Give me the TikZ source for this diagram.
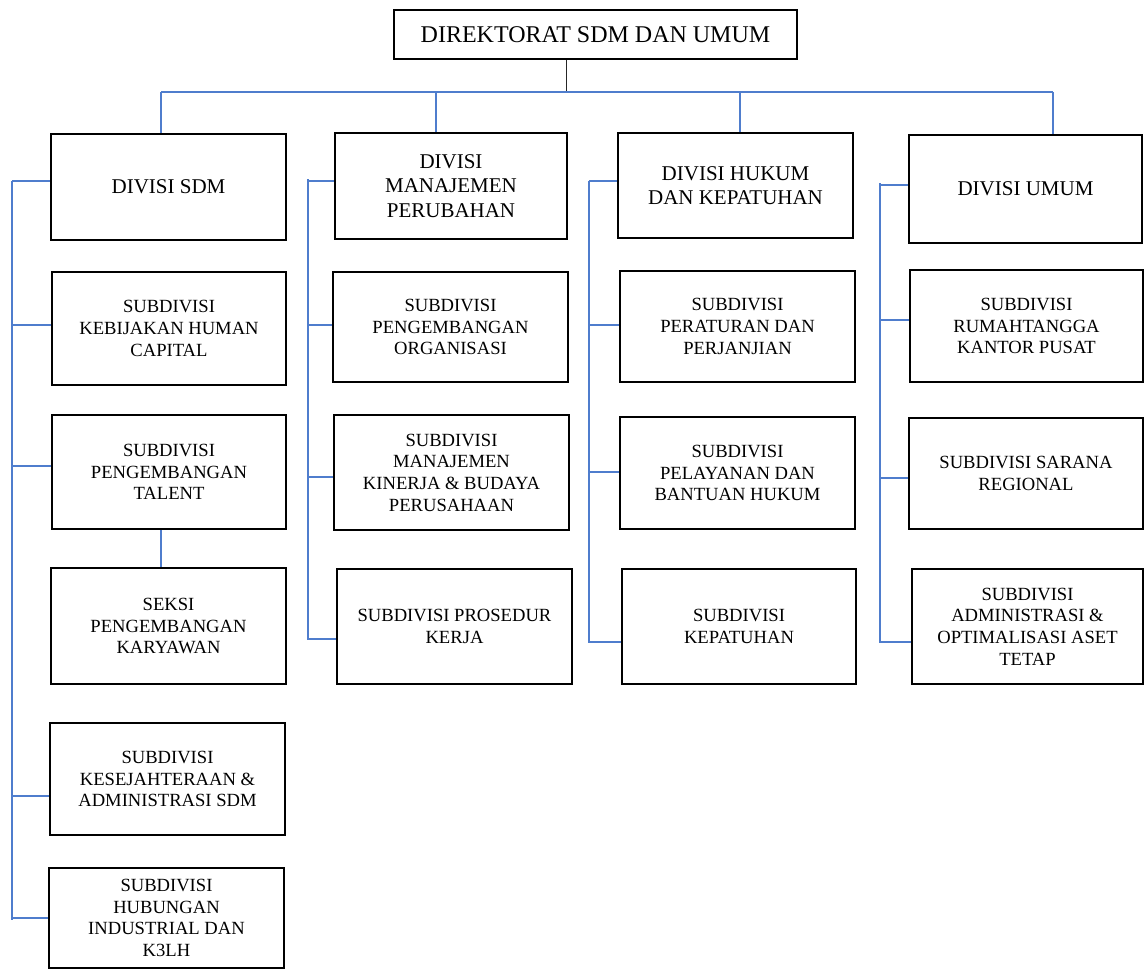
\documentclass[tikz,border=0pt]{standalone}
\usepackage{fontspec}
\setmainfont{Liberation Serif}
\definecolor{busblue}{RGB}{79,125,205}
\tikzset{
  boxbase/.style={draw=black, line width=2.8pt, rectangle, align=center, inner sep=2pt, fill=white},
  dirbox/.style={boxbase, font=\fontsize{24}{27}\selectfont},
  divbox/.style={boxbase, font=\fontsize{21}{24.3}\selectfont},
  subbox/.style={boxbase, font=\fontsize{18.6}{21.7}\selectfont},
  blueline/.style={draw=busblue, line width=1.4pt},
  blackline/.style={draw=black!85, line width=1pt}
}
\begin{document}
\begin{tikzpicture}[x=1pt,y=-1pt]
\useasboundingbox (0,0) rectangle (1146,972);
% top
\node[dirbox, minimum width=403pt, minimum height=49pt] (dir) at (595.5,34.5) {DIREKTORAT SDM DAN UMUM};
% divisions
\node[divbox, minimum width=235pt, minimum height=106pt] (d1) at (168.5,187) {DIVISI SDM};
\node[divbox, minimum width=232pt, minimum height=106pt] (d2) at (451,186) {DIVISI\\MANAJEMEN\\PERUBAHAN};
\node[divbox, minimum width=235pt, minimum height=105pt] (d3) at (735.5,185.5) {DIVISI HUKUM\\DAN KEPATUHAN};
\node[divbox, minimum width=233pt, minimum height=108pt] (d4) at (1025.5,189) {DIVISI UMUM};
% column 1
\node[subbox, minimum width=234pt, minimum height=113pt] (s11) at (169,328.5) {SUBDIVISI\\KEBIJAKAN HUMAN\\CAPITAL};
\node[subbox, minimum width=234pt, minimum height=114pt] (s12) at (169,472) {SUBDIVISI\\PENGEMBANGAN\\TALENT};
\node[subbox, minimum width=235pt, minimum height=116pt] (s13) at (168.5,626) {SEKSI\\PENGEMBANGAN\\KARYAWAN};
\node[subbox, minimum width=235pt, minimum height=112pt] (s14) at (167.5,779) {SUBDIVISI\\KESEJAHTERAAN \&\\ADMINISTRASI SDM};
\node[subbox, minimum width=235pt, minimum height=100pt] (s15) at (166.5,918) {SUBDIVISI\\HUBUNGAN\\INDUSTRIAL DAN\\K3LH};
% column 2
\node[subbox, minimum width=235pt, minimum height=110pt] (s21) at (450.5,327) {SUBDIVISI\\PENGEMBANGAN\\ORGANISASI};
\node[subbox, minimum width=235pt, minimum height=115pt] (s22) at (451.5,472.5) {SUBDIVISI\\MANAJEMEN\\KINERJA \& BUDAYA\\PERUSAHAAN};
\node[subbox, minimum width=235pt, minimum height=115pt] (s23) at (454.5,626.5) {SUBDIVISI PROSEDUR\\KERJA};
% column 3
\node[subbox, minimum width=235pt, minimum height=111pt] (s31) at (737.5,326.5) {SUBDIVISI\\PERATURAN DAN\\PERJANJIAN};
\node[subbox, minimum width=235pt, minimum height=112pt] (s32) at (737.5,473) {SUBDIVISI\\PELAYANAN DAN\\BANTUAN HUKUM};
\node[subbox, minimum width=234pt, minimum height=115pt] (s33) at (739,626.5) {SUBDIVISI\\KEPATUHAN};
% column 4
\node[subbox, minimum width=233pt, minimum height=112pt] (s41) at (1026.5,326) {SUBDIVISI\\RUMAHTANGGA\\KANTOR PUSAT};
\node[subbox, minimum width=234pt, minimum height=111pt] (s42) at (1026,473.5) {SUBDIVISI SARANA\\REGIONAL};
\node[subbox, minimum width=231pt, minimum height=115pt] (s43) at (1027.5,626.5) {SUBDIVISI\\ADMINISTRASI \&\\OPTIMALISASI ASET\\TETAP};
% top bus
\coordinate (hub) at (566,92);
\coordinate (t1) at (161,92);
\coordinate (t2) at (436,92);
\coordinate (t3) at (740,92);
\coordinate (t4) at (1053,92);
\draw[blackline] (dir.south -| hub) -- (hub);
\draw[blueline] (t1) -- (t4);
\draw[blueline] (t1) -- (t1 |- d1.north);
\draw[blueline] (t2) -- (t2 |- d2.north);
\draw[blueline] (t3) -- (t3 |- d3.north);
\draw[blueline] (t4) -- (t4 |- d4.north);
% column buses
\coordinate (c1) at (12,181);
\coordinate (c1e) at (12,920);
\coordinate (c2) at (308,179);
\coordinate (c2e) at (308,640);
\coordinate (c3) at (589,181);
\coordinate (c3e) at (589,643);
\coordinate (c4) at (880,183);
\coordinate (c4e) at (880,643);
\draw[blueline] (c1) -- (c1e);
\draw[blueline] (c2) -- (c2e);
\draw[blueline] (c3) -- (c3e);
\draw[blueline] (c4) -- (c4e);
% column 1 branches
\draw[blueline] (c1) -- (c1 -| d1.west);
\draw[blueline] ([yshift=3.5pt]s11.west) -- ++(-39,0);
\draw[blueline] ([yshift=6pt]s12.west) -- ++(-39,0);
\draw[blueline] ([yshift=-17pt]s14.west) -- ++(-37,0);
\draw[blueline] (s15.west) -- ++(-36,0);
\draw[blueline] ([xshift=-8pt]s12.south) -- ([xshift=-7.5pt]s13.north);
% column 2 branches
\draw[blueline] ([yshift=-2pt]c2) -- ++(26,0);
\draw[blueline] ([yshift=2pt]s21.west) -- ++(-25,0);
\draw[blueline] ([yshift=-4.5pt]s22.west) -- ++(-26,0);
\draw[blueline] ([yshift=-12.5pt]s23.west) -- ++(-29,0);
% column 3 branches
\draw[blueline] (c3) -- (c3 -| d3.west);
\draw[blueline] ([yshift=1.5pt]s31.west) -- ++(-31,0);
\draw[blueline] ([yshift=1pt]s32.west) -- ++(-31,0);
\draw[blueline] ([yshift=-15.5pt]s33.west) -- ++(-33,0);
% column 4 branches
\draw[blueline] ([yshift=-2pt]c4) -- ++(28,0);
\draw[blueline] ([yshift=6pt]s41.west) -- ++(-29,0);
\draw[blueline] ([yshift=-4.5pt]s42.west) -- ++(-28,0);
\draw[blueline] ([yshift=-15.5pt]s43.west) -- ++(-32,0);
\end{tikzpicture}
\end{document}
